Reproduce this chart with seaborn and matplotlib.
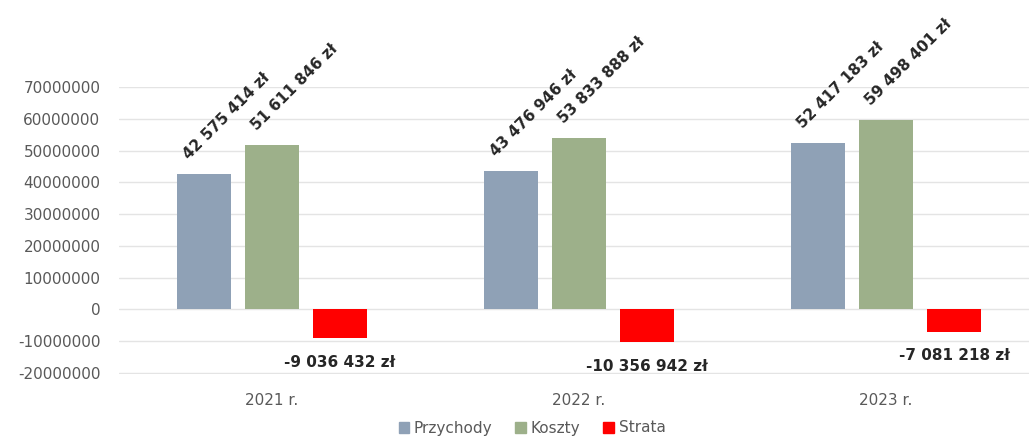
import pandas as pd
import matplotlib.pyplot as plt
import seaborn as sns

# === Dane
lata = ["2021 r.", "2022 r.", "2023 r."]
przychody = [42575414, 43476946, 52417183]
koszty = [51611846, 53833888, 59498401]
strata = [-9036432, -10356942, -7081218]
serie = ["Przychody", "Koszty", "Strata"]
kolory = ["#8FA1B6", "#9DB08A", "#FF0000"]
y_ticks = list(range(-20000000, 70000001, 10000000))

df = pd.DataFrame({
    "Rok": lata * 3,
    "Seria": ["Przychody"] * 3 + ["Koszty"] * 3 + ["Strata"] * 3,
    "Wartosc": przychody + koszty + strata,
})

def fmt(v):
    return f"{v:,}".replace(",", " ") + " zł"

# === Styl
sns.set_theme(style="whitegrid")
plt.rcParams["font.family"] = ["DejaVu Sans"]

fig = plt.figure(figsize=(10.29, 4.37), dpi=100)
ax = fig.add_axes([118.5 / 1029, 63 / 437, 921 / 1029, 287 / 437])

sns.barplot(
    data=df, x="Rok", y="Wartosc", hue="Seria",
    hue_order=serie, palette=kolory, order=lata,
    width=0.6645, gap=0.22, saturation=1, ax=ax, legend=True,
    linewidth=0,
)

ax.set_xlim(-0.5, 2.5)
ax.set_ylim(-20300000, 70000000)
ax.set_yticks(y_ticks)
ax.set_yticklabels([str(v) for v in y_ticks])
ax.tick_params(axis="y", labelsize=11, labelcolor="#595959", pad=13, length=0)
ax.tick_params(axis="x", labelsize=11, labelcolor="#595959", pad=14, length=0)
ax.set_xlabel("")
ax.set_ylabel("")
ax.grid(axis="y", color="#E4E4E4", linewidth=1)
ax.grid(axis="x", visible=False)
for s in ax.spines.values():
    s.set_visible(False)

# === Etykiety danych
for cont in ax.containers:
    for bar in cont:
        h = bar.get_height()
        cx = bar.get_x() + bar.get_width() / 2
        if h >= 0:
            ax.annotate(fmt(int(round(h))), (cx, h), xytext=(-13, 12),
                        textcoords="offset pixels", rotation=45,
                        rotation_mode="anchor", ha="left", va="bottom",
                        fontsize=11, fontweight="bold", color="#262626",
                        annotation_clip=False)
        else:
            ax.annotate(fmt(int(round(h))), (cx, h), xytext=(0, -24),
                        textcoords="offset pixels", ha="center", va="center",
                        fontsize=11, fontweight="bold", color="#262626",
                        annotation_clip=False)

# === Legenda
ax.legend_.remove()
handles = [plt.Rectangle((0, 0), 1, 1, color=c) for c in kolory]
fig.legend(handles, serie, loc="center", bbox_to_anchor=(532 / 1029, 9 / 437),
           ncol=3, frameon=False, fontsize=11, handlelength=0.7,
           handleheight=0.7, handletextpad=0.3, columnspacing=1.5,
           labelcolor="#595959")

fig.savefig("out.png", dpi=100)
